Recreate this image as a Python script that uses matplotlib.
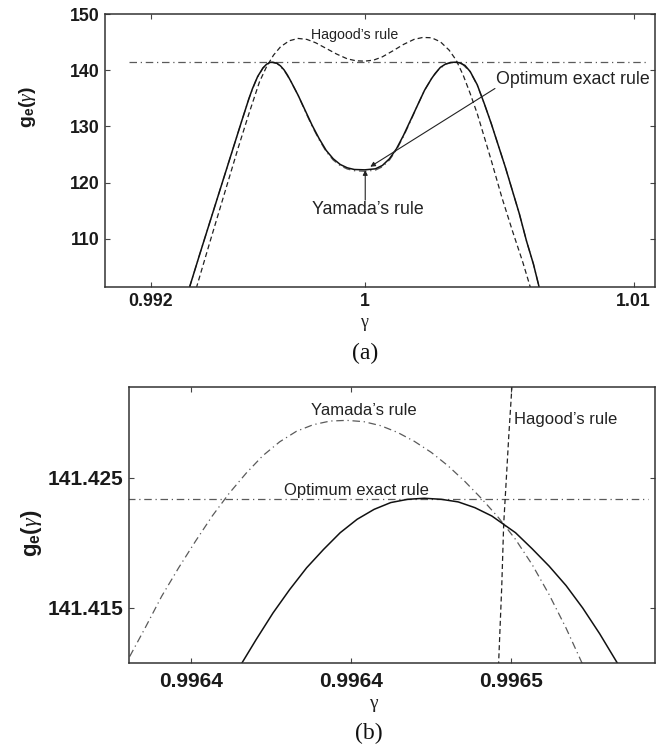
import matplotlib
matplotlib.use('Agg')
import matplotlib.pyplot as plt

plt.rcParams['font.family'] = ['Liberation Sans', 'DejaVu Sans']
plt.rcParams['mathtext.fontset'] = 'custom'
plt.rcParams['mathtext.rm'] = 'Liberation Sans'
plt.rcParams['mathtext.bf'] = 'Liberation Sans:bold'
plt.rcParams['mathtext.it'] = 'Liberation Serif:italic'

# ---------------- panel (a) data ----------------
opt_a_gamma = [0.99344, 0.993833, 0.994225, 0.994618, 0.995011, 0.995404, 0.995665, 0.995796,
               0.995993, 0.996189, 0.99632, 0.996451, 0.996556, 0.996713, 0.996844, 0.996975,
               0.997105, 0.997236, 0.997498, 0.99776, 0.998022,
               0.998284, 0.998546, 0.998807, 0.999069, 0.999331, 0.999593, 0.999986,
               1.000378, 1.00064, 1.000902, 1.001164, 1.001425, 1.001687, 1.001949, 1.002211,
               1.002473, 1.002604, 1.0028, 1.002996, 1.003193, 1.003363, 1.00352, 1.003716,
               1.003913, 1.004175,
               1.004437, 1.004698, 1.00496, 1.005222, 1.005484, 1.005746, 1.006008, 1.006269,
               1.006492]
opt_a_g = [101.19, 107.26, 113.21, 119.17, 125.12, 131.07, 134.94, 136.70,
           138.90, 140.40, 141.05, 141.38, 141.42, 141.22, 140.75, 140.05,
           139.10, 137.95, 135.54, 132.86, 130.18,
           127.80, 125.71, 124.23, 123.21, 122.62, 122.32, 122.26,
           122.44, 123.04, 124.23, 126.01, 128.39, 131.07, 133.75, 136.43,
           138.51, 139.40, 140.50, 141.10, 141.38, 141.42, 141.30, 140.85,
           139.75, 137.40,
           134.05, 130.48, 126.61, 122.74, 118.57, 114.40, 109.64, 105.48,
           101.19]
yam_a_gamma = [0.99344, 0.993833, 0.994225, 0.994618, 0.995011, 0.995404, 0.995665, 0.995927,
               0.996189, 0.996451, 0.996713, 0.996975, 0.997236, 0.997498, 0.99776, 0.998022,
               0.998284, 0.998546, 0.998807, 0.999069, 0.999331, 0.999593, 0.999986,
               1.000378, 1.00064, 1.000902, 1.001164, 1.001425, 1.001687, 1.001949, 1.002211,
               1.002473, 1.002735, 1.002996, 1.003193, 1.003389, 1.003586, 1.003913, 1.004175,
               1.004437, 1.004698, 1.00496, 1.005222, 1.005484, 1.005746, 1.006008, 1.006269,
               1.006492]
yam_a_g = [101.19, 107.26, 113.21, 119.17, 125.12, 131.07, 134.94, 138.21,
           140.42, 141.42, 141.19, 140.0, 137.92, 135.54, 132.70, 130.00,
           127.60, 125.50, 124.00, 123.00, 122.40, 122.10, 122.00,
           122.20, 122.80, 124.00, 125.80, 128.20, 130.90, 133.75, 136.43,
           138.51, 140.12, 141.07, 141.31, 141.42, 141.25, 139.70, 137.32,
           134.05, 130.48, 126.61, 122.74, 118.57, 114.40, 109.64, 105.48,
           101.19]
hag_a_gamma = [0.993702, 0.994225, 0.994749, 0.995273, 0.995665, 0.996058, 0.99632, 0.996582,
               0.996844, 0.997171, 0.997498, 0.997825, 0.998153, 0.998546, 0.998938, 0.999331,
               0.999658, 0.999986, 1.000313, 1.00064, 1.001033, 1.001425, 1.001818, 1.002146,
               1.002473, 1.0028, 1.003127, 1.003389, 1.003651, 1.003913, 1.004175, 1.004437,
               1.004698, 1.005091, 1.005484, 1.005876, 1.006164]
hag_a_g = [101.19, 109.64, 117.98, 126.31, 132.26, 137.92, 140.60, 142.68,
           144.17, 145.24, 145.65, 145.48, 144.88, 143.87, 142.86, 142.02,
           141.67, 141.61, 141.79, 142.38, 143.45, 144.58, 145.48, 145.83,
           145.77, 145.06, 143.57, 141.79, 139.11, 135.83, 132.26, 128.10,
           123.93, 117.38, 111.43, 105.77, 101.19]
ref_a_gamma = [0.99120, 1.01056]
ref_a_g = [141.42, 141.42]

# ---------------- panel (b) data ----------------
opt_b_gamma = [0.9964156, 0.9964203, 0.9964256, 0.9964308, 0.9964361, 0.9964414, 0.9964466,
               0.9964519, 0.9964572, 0.9964624, 0.9964677, 0.9964729, 0.9964782, 0.9964835,
               0.9964887, 0.9964940, 0.9964977, 0.9965014, 0.9965066, 0.9965119, 0.9965172,
               0.9965224, 0.9965277, 0.9965335]
opt_b_g = [141.41067, 141.41257, 141.41462, 141.41641, 141.41808, 141.41949, 141.42077,
           141.42180, 141.42256, 141.42308, 141.42333, 141.42341, 141.42333, 141.42313,
           141.42269, 141.42205, 141.42141, 141.42077, 141.41954, 141.41821, 141.41672,
           141.41500, 141.41303, 141.41067]
yam_b_gamma = [0.9963808, 0.9963856, 0.9963908, 0.9963961, 0.9964014, 0.9964066, 0.9964119,
               0.9964172, 0.9964224, 0.9964277, 0.9964329, 0.9964382, 0.9964435, 0.9964487,
               0.9964540, 0.9964593, 0.9964645, 0.9964698, 0.9964751, 0.9964803, 0.9964856,
               0.9964908, 0.9964961, 0.9965014, 0.9965066, 0.9965119, 0.9965172, 0.9965224]
yam_b_g = [141.41128, 141.41346, 141.41590, 141.41808, 141.42013, 141.42205, 141.42379,
           141.42533, 141.42667, 141.42774, 141.42854, 141.42905, 141.42933, 141.42938,
           141.42928, 141.42897, 141.42846, 141.42777, 141.42692, 141.42590, 141.42469,
           141.42338, 141.42192, 141.42026, 141.41833, 141.41603, 141.41346, 141.41067]
hag_b_gamma = [0.9965003, 0.9964993, 0.9964984, 0.9964977, 0.9964971, 0.9964961]
hag_b_g = [141.43205, 141.42821, 141.42436, 141.42141, 141.41667, 141.41067]
ref_b_gamma = [0.99637, 0.9965429]
ref_b_g = [141.42338, 141.42338]

a_xticks = [0.992, 1.0, 1.01]
a_xticklabels = ['0.992', '1', '1.01']
a_yticks = [110, 120, 130, 140, 150]
a_yticklabels = ['110', '120', '130', '140', '150']
b_xticks = [0.99640, 0.99645, 0.99650]
b_xticklabels = ['0.9964', '0.9964', '0.9965']
b_yticks = [141.415, 141.425]
b_yticklabels = ['141.415', '141.425']

fig = plt.figure(figsize=(6.67, 7.49), dpi=100)
ax1 = fig.add_axes([0.1574, 0.6168, 0.8246, 0.3645])
ax2 = fig.add_axes([0.193, 0.1144, 0.789, 0.3693])

DD = (0, (6, 3, 1, 3))
DASH = (0, (4, 2.5))
GRAY = '#5a5a5a'

def style(ax, lsize, xpad, ypad):
    for s in ax.spines.values():
        s.set_color('#333333')
        s.set_linewidth(1.1)
    ax.tick_params(direction='in', top=True, right=True, length=3.6, width=0.8,
                   colors='#444444', labelcolor='#1a1a1a', labelsize=lsize)
    ax.tick_params(axis='x', pad=xpad)
    ax.tick_params(axis='y', pad=ypad)

# panel (a)
ax1.plot(ref_a_gamma, ref_a_g, color=GRAY, lw=0.9, linestyle=DD)
ax1.plot(yam_a_gamma, yam_a_g, color=GRAY, lw=0.9, linestyle=DD)
ax1.plot(hag_a_gamma, hag_a_g, color='#222222', lw=0.9, linestyle=DASH)
ax1.plot(opt_a_gamma, opt_a_g, color='#111111', lw=1.1)
ax1.set_xlim(0.9903, 1.0108)
ax1.set_ylim(101.4, 150)
ax1.set_xticks(a_xticks)
ax1.set_xticklabels(a_xticklabels, fontweight='bold')
ax1.set_yticks(a_yticks)
ax1.set_yticklabels(a_yticklabels, fontweight='bold')
style(ax1, 12.8, 4.3, 3.6)

ax1.text(0.99961, 146.23, 'Hagood’s rule', fontsize=10.2, ha='center', va='center', color='#222222')
ax1.text(1.007754, 138.4, 'Optimum exact rule', fontsize=12.8, ha='center', va='center', color='#222222')
ax1.text(1.000105, 115.21, 'Yamada’s rule', fontsize=12.8, ha='center', va='center', color='#222222')
ax1.annotate('', xy=(1.000188, 122.81), xytext=(1.004835, 136.74),
             arrowprops=dict(arrowstyle='-|>', color='#222222', lw=0.8, mutation_scale=7,
                             shrinkA=0, shrinkB=0))
ax1.annotate('', xy=(1.0, 122.2), xytext=(1.0, 116.87),
             arrowprops=dict(arrowstyle='-|>', color='#222222', lw=0.8, mutation_scale=7,
                             shrinkA=0, shrinkB=0))

# panel (b)
ax2.plot(ref_b_gamma, ref_b_g, color=GRAY, lw=0.9, linestyle=DD)
ax2.plot(yam_b_gamma, yam_b_g, color=GRAY, lw=0.9, linestyle=DD)
ax2.plot(hag_b_gamma, hag_b_g, color='#222222', lw=0.9, linestyle=DASH)
ax2.plot(opt_b_gamma, opt_b_g, color='#111111', lw=1.1)
ax2.set_xlim(0.9963805, 0.9965450)
ax2.set_ylim(141.41076, 141.43196)
ax2.set_xticks(b_xticks)
ax2.set_xticklabels(b_xticklabels, fontweight='bold')
ax2.set_yticks(b_yticks)
ax2.set_yticklabels(b_yticklabels, fontweight='bold')
style(ax2, 15, 6.5, 4.0)

ax2.text(0.9964540, 141.43017, 'Yamada’s rule', fontsize=12, ha='center', va='center', color='#222222')
ax2.text(0.99651719, 141.42948, 'Hagood’s rule', fontsize=12, ha='center', va='center', color='#222222')
ax2.text(0.99645175, 141.42404, 'Optimum exact rule', fontsize=12, ha='center', va='center', color='#222222')

# axis labels and captions
ylab = r'$\mathbf{g}_{\mathbf{e}}\mathbf{(}\gamma\mathbf{)}$'
fig.text(28 / 667, 1 - 107 / 749, ylab, rotation=90, ha='center', va='center', fontsize=14, color='#1a1a1a')
fig.text(32 / 667, 1 - 533 / 749, ylab, rotation=90, ha='center', va='center', fontsize=16, color='#1a1a1a')
fig.text(364 / 667, 1 - 322 / 749, 'γ', ha='center', va='center', fontsize=13,
         family=['Liberation Serif', 'DejaVu Serif'], color='#222222')
fig.text(373 / 667, 1 - 703 / 749, 'γ', ha='center', va='center', fontsize=14,
         family=['Liberation Serif', 'DejaVu Serif'], color='#222222')
fig.text(365 / 667, 1 - 353 / 749, '(a)', ha='center', va='center', fontsize=17,
         family=['Liberation Serif', 'DejaVu Serif'], color='#111111')
fig.text(369 / 667, 1 - 733 / 749, '(b)', ha='center', va='center', fontsize=17,
         family=['Liberation Serif', 'DejaVu Serif'], color='#111111')

fig.savefig('out.png', dpi=100)
